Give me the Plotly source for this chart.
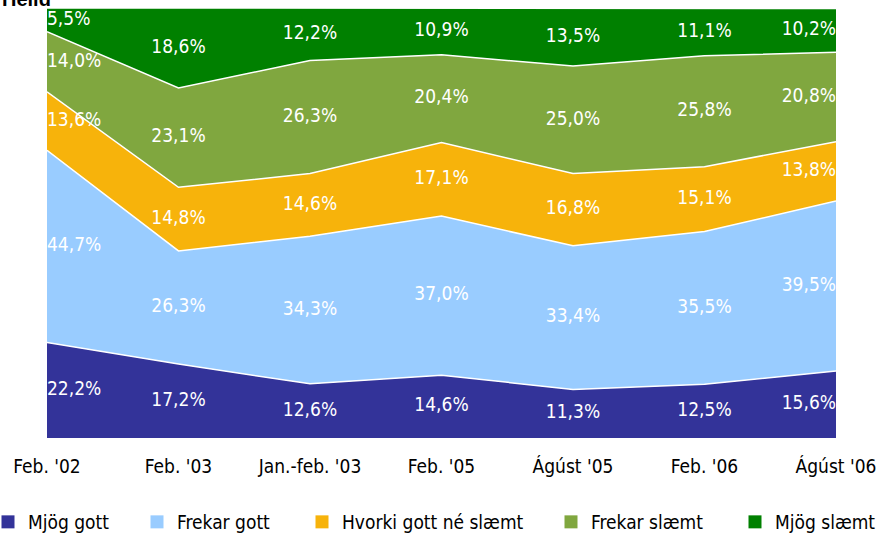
import plotly.graph_objects as go
import numpy as np

categories = ["Feb. '02", "Feb. '03", "Jan.-feb. '03", "Feb. '05", "Ágúst '05", "Feb. '06", "Ágúst '06"]
series_names = ["Mjög gott", "Frekar gott", "Hvorki gott né slæmt", "Frekar slæmt", "Mjög slæmt"]
mjog_gott = [22.2, 17.2, 12.6, 14.6, 11.3, 12.5, 15.6]
frekar_gott = [44.7, 26.3, 34.3, 37.0, 33.4, 35.5, 39.5]
hvorki = [13.6, 14.8, 14.6, 17.1, 16.8, 15.1, 13.8]
frekar_slaemt = [14.0, 23.1, 26.3, 20.4, 25.0, 25.8, 20.8]
mjog_slaemt = [5.5, 18.6, 12.2, 10.9, 13.5, 11.1, 10.2]

colors = ["#333399", "#99CCFF", "#F7B30B", "#80A73F", "#008000"]
values = [mjog_gott, frekar_gott, hvorki, frekar_slaemt, mjog_slaemt]

FONT = "DejaVu Sans Condensed, Liberation Sans Narrow, Arial Narrow, Liberation Sans, Arial"
x = list(range(len(categories)))

fig = go.Figure()
for name, vals, col in zip(series_names, values, colors):
    fig.add_trace(go.Scatter(
        x=x, y=vals, mode="lines", stackgroup="one", name=name,
        line=dict(color="white", width=1.5), fillcolor=col, showlegend=False,
        hoverinfo="skip"))

# labels
cum = np.zeros(len(categories))
positions = ["middle right"] + ["middle center"] * (len(categories) - 2) + ["middle left"]
for vals in values:
    v = np.array(vals)
    mid = cum + v / 2
    cum = cum + v
    fig.add_trace(go.Scatter(
        x=x, y=mid, mode="text", text=[f"{val:.1f}%".replace(".", ",") for val in vals],
        textposition=positions, textfont=dict(color="white", size=19, family=FONT),
        showlegend=False, hoverinfo="skip"))

# legend entries (marker centres in pixels)
legend_px = [12, 161, 326, 575, 759]
for i, (name, col) in enumerate(zip(series_names, colors)):
    lg = "legend" if i == 0 else f"legend{i+1}"
    fig.add_trace(go.Scatter(
        x=[None], y=[None], mode="markers", name=name,
        marker=dict(symbol="square", size=13, color=col),
        legend=lg, showlegend=True))

layout_legends = {}
for i, px in enumerate(legend_px):
    lg = "legend" if i == 0 else f"legend{i+1}"
    layout_legends[lg] = dict(
        x=(px - 24 - 47) / 789, xanchor="left", y=(438 - 522) / 430, yanchor="middle",
        orientation="h", font=dict(family=FONT, size=19, color="black"),
        bgcolor="rgba(0,0,0,0)", itemwidth=30)

fig.update_layout(
    width=891, height=534,
    margin=dict(l=47, r=55, t=8, b=96, autoexpand=False),
    paper_bgcolor="white", plot_bgcolor="white",
    xaxis=dict(range=[0, 6], tickmode="array", tickvals=x, ticktext=categories,
               showgrid=False, zeroline=False, showline=False, ticks="",
               tickfont=dict(family=FONT, size=19, color="black"),
               ticklabelstandoff=15, fixedrange=True, automargin=False),
    yaxis=dict(range=[0, 100], visible=False, fixedrange=True, automargin=False),
    **layout_legends,
)

fig.add_annotation(text="<b>Heild</b>", xref="paper", yref="paper", x=-47 / 789, y=1 + 8 / 430,
                   xanchor="left", yanchor="bottom", yshift=-12, showarrow=False,
                   font=dict(family="Liberation Sans, Arial", size=20, color="black"))

fig.write_html("out.html", config={"displayModeBar": False},
               post_script="document.body.style.margin='0';document.body.style.overflow='hidden';")
